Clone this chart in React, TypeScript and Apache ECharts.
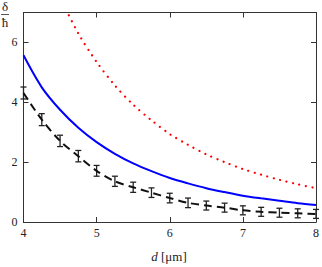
import React, { useEffect, useRef } from 'react';
import * as echarts from 'echarts';

const dValues = [4, 4.25, 4.5, 4.75, 5, 5.25, 5.5, 5.75, 6, 6.25, 6.5, 6.75, 7, 7.25, 7.5, 7.75, 8];
const blueValues = [5.57, 4.5, 3.75, 3.15, 2.67, 2.28, 1.96, 1.7, 1.47, 1.29, 1.13, 1.0, 0.88, 0.79, 0.71, 0.63, 0.57];
const redD = [4.5, 4.75, 5, 5.25, 5.5, 5.75, 6, 6.25, 6.5, 6.75, 7, 7.25, 7.5, 7.75, 8];
const redValues = [7.5, 6.3, 5.35, 4.56, 3.92, 3.4, 2.94, 2.58, 2.26, 2.0, 1.77, 1.58, 1.41, 1.26, 1.13];
const measured = [4.31, 3.42, 2.71, 2.2, 1.71, 1.36, 1.16, 0.98, 0.8, 0.64, 0.55, 0.48, 0.39, 0.34, 0.31, 0.29, 0.27];
const errors = [0.2, 0.2, 0.19, 0.19, 0.18, 0.17, 0.17, 0.16, 0.16, 0.16, 0.15, 0.15, 0.15, 0.15, 0.15, 0.15, 0.15];

const FONT = '"Liberation Serif", "DejaVu Serif", serif';

export default function App() {
  const ref = useRef<HTMLDivElement>(null);
  useEffect(() => {
    if (!ref.current) return;
    const chart = echarts.init(ref.current, null, { renderer: 'svg' });
    const axisColor = '#333';
    const baseX = {
      type: 'value' as const,
      min: 4,
      max: 8,
      interval: 1,
      splitLine: { show: false },
      axisLine: { show: true, onZero: false, lineStyle: { color: axisColor, width: 1 } },
      axisTick: { show: true, inside: true, length: 5, lineStyle: { color: axisColor } },
    };
    const baseY = {
      type: 'value' as const,
      min: 0,
      max: 7,
      interval: 2,
      splitLine: { show: false },
      axisLine: { show: true, onZero: false, lineStyle: { color: axisColor, width: 1 } },
      axisTick: { show: true, inside: true, length: 5, lineStyle: { color: axisColor } },
    };
    chart.setOption({
      animation: false,
      grid: { left: 23.5, right: 3.5, top: 12.5, bottom: 45, containLabel: false },
      xAxis: [
        { ...baseX, position: 'bottom', axisLabel: { fontFamily: FONT, fontSize: 12, color: '#222', margin: 5 } },
        { ...baseX, position: 'top', axisLabel: { show: false } },
      ],
      yAxis: [
        { ...baseY, position: 'left', axisLabel: { fontFamily: FONT, fontSize: 12, color: '#222', margin: 6, showMaxLabel: false } },
        { ...baseY, position: 'right', axisLabel: { show: false } },
      ],
      series: [
        {
          type: 'line',
          data: redD.map((d, i) => [d, redValues[i]]),
          smooth: 0.3,
          symbol: 'none',
          clip: true,
          lineStyle: { color: '#ff0000', width: 2.2, type: [0.01, 6.6], cap: 'round' },
        },
        {
          type: 'line',
          data: dValues.map((d, i) => [d, blueValues[i]]),
          smooth: 0.3,
          symbol: 'none',
          lineStyle: { color: '#0000ff', width: 2 },
        },
        {
          type: 'line',
          data: dValues.map((d, i) => [d, measured[i]]),
          smooth: 0.3,
          symbol: 'none',
          lineStyle: { color: '#111', width: 2, type: [8, 5] },
        },
        {
          type: 'custom',
          clip: false,
          data: dValues.map((d, i) => [d, measured[i], errors[i]]),
          renderItem: (params: any, api: any) => {
            const x = api.value(0);
            const y = api.value(1);
            const e = api.value(2);
            const top = api.coord([x, y + e]);
            const bot = api.coord([x, y - e]);
            const hw = 3;
            const style = { stroke: '#222', lineWidth: 1.3 };
            return {
              type: 'group',
              children: [
                { type: 'line', shape: { x1: top[0], y1: top[1], x2: bot[0], y2: bot[1] }, style },
                { type: 'line', shape: { x1: top[0] - hw, y1: top[1], x2: top[0] + hw, y2: top[1] }, style },
                { type: 'line', shape: { x1: bot[0] - hw, y1: bot[1], x2: bot[0] + hw, y2: bot[1] }, style },
              ],
            };
          },
        },
      ],
      graphic: [
        {
          type: 'text',
          x: 5,
          y: 6,
          style: { text: 'δ', font: `13px ${FONT}`, fill: '#222', align: 'center', verticalAlign: 'middle' },
        },
        {
          type: 'line',
          shape: { x1: 1, y1: 14.5, x2: 9, y2: 14.5 },
          style: { stroke: '#555', lineWidth: 1 },
        },
        {
          type: 'text',
          x: 5,
          y: 22,
          style: { text: 'ħ', font: `13px ${FONT}`, fill: '#222', align: 'center', verticalAlign: 'middle' },
        },
        {
          type: 'text',
          x: 169,
          y: 256,
          style: {
            text: '{i|d} [μm]',
            font: `13px ${FONT}`,
            fill: '#222',
            align: 'center',
            verticalAlign: 'middle',
            rich: { i: { fontStyle: 'italic', fontFamily: FONT, fontSize: 13, fill: '#222' } },
          },
        },
      ],
    });
    return () => chart.dispose();
  }, []);
  return <div ref={ref} style={{ position: 'absolute', left: 0, top: 0, width: 322, height: 267 }} />;
}
